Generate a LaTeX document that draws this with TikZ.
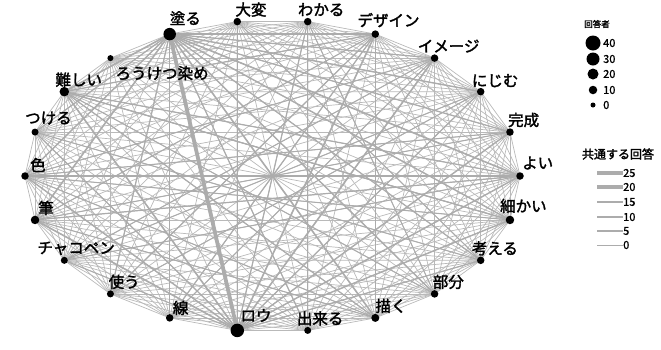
\documentclass[tikz,border=0pt]{standalone}
\usepackage{fontspec}
\newfontfamily\jpfont[FakeBold=2]{Noto Sans CJK JP}
\newfontfamily\jpplain[FakeBold=1.2]{Noto Sans CJK JP}
\usetikzlibrary{backgrounds}
\tikzset{
  dot/.style={circle, fill=black, inner sep=0pt, minimum size=#1},
  dot/.default=7pt,
  word/.style={font=\jpfont\fontsize{15.5}{16}\selectfont, inner sep=0pt, anchor=west},
  num/.style={font=\jpplain\fontsize{11}{12}\selectfont, inner sep=0pt, anchor=west},
  tie/.style={draw=gray!65, line width=#1},
  tie/.default=0.7pt,
}
\begin{document}
\begin{tikzpicture}[x=1pt, y=-1pt]
        \useasboundingbox (0,0) rectangle (661,349);

        % Words on the ellipse
        \foreach \i/\d in {0/7.5,1/7.5,2/7.5,3/7.5,4/7.5,5/7.5,6/7.5,7/12.5,8/6,9/9.5,10/7,
                           11/7.5,12/8.5,13/7,14/7,15/7.5,16/13.5,17/7,18/8,19/7.5,20/7.5,21/8.5}
          \node[dot=\d pt] (n\i) at ({272.5+247.5*cos(\i*360/22)}, {176-156*sin(\i*360/22)}) {};

        % Word labels
        \foreach \i/\t/\dx/\dy in {0/よい/2/-13, 1/完成/-2/-12, 2/にじむ/-9/-11, 3/イメージ/-17/-12,
                                   4/デザイン/-18/-14, 5/わかる/-10/-12, 6/大変/-2/-12, 7/塗る/0/-16,
                                   8/ろうけつ染め/5/15, 9/難しい/-9/-12, 10/つける/-10/-14, 11/色/5/-11,
                                   12/筆/3/-12, 13/チャコペン/-27/-12, 14/使う/-2/-12, 15/線/3/-10,
                                   16/ロウ/3/-15, 17/出来る/-11/-12, 18/描く/0/-12, 19/部分/-2/-12,
                                   20/考える/-9/-12, 21/細かい/-10/-14}
          \node[word] (l\i) at ([shift={(\dx,\dy)}]n\i.center) {\t};

        % Co-occurrence lines
        \begin{scope}[on background layer]
          \foreach \i in {0,...,20}{
            \pgfmathtruncatemacro\k{\i+1}
            \foreach \j in {\k,...,21}
              \draw[tie, draw=gray!55] (n\i.center) -- (n\j.center);
          }
          \foreach \i/\j/\w in {7/16/3.8,
              7/0/1.6, 7/21/1.4, 7/20/1.2, 7/19/1.4, 7/18/1.6, 7/17/1.2, 7/12/1.6, 7/11/1.4,
              7/10/1.2, 7/9/1.6, 7/4/1.6, 7/3/1.2, 7/2/1.4, 7/1/1.2, 7/14/1.2, 7/15/1.0,
              16/0/1.4, 16/1/1.4, 16/2/1.2, 16/3/1.6, 16/4/1.6, 16/5/1.2, 16/9/1.6, 16/10/1.2,
              16/11/1.4, 16/12/1.6, 16/21/1.4, 16/20/1.2, 16/13/1.0,
              9/0/1.2, 9/21/1.2, 9/18/1.2, 9/4/1.2, 12/0/1.2, 12/4/1.0, 4/15/1.2, 4/14/1.2,
              4/18/1.0, 3/13/1.0, 2/14/1.0, 21/11/1.0, 0/11/1.2, 1/12/1.0, 18/12/1.0, 18/11/1.0,
              6/16/1.0, 5/17/1.0, 3/15/1.0, 2/13/1.0, 1/11/1.0, 20/10/1.0, 19/9/1.0, 21/9/1.0,
              0/13/1.0, 3/11/1.0, 5/19/1.0, 6/20/1.0}
            \draw[tie=\w pt] (n\i.center) -- (n\j.center);
        \end{scope}

        % Legend: respondents
        \node[font=\jpfont\fontsize{8.5}{9}\selectfont, inner sep=0pt] (sizetitle) at (597,24) {回答者};
        \foreach \v/\d/\y in {40/15/43, 30/13/59, 20/11/74, 10/8.5/90, 0/5/105}{
          \node[dot=\d pt] (s\v) at (593,\y) {};
          \node[num] (sv\v) at (603,\y) {\v};
        }

        % Legend: shared answers
        \node[font=\jpfont\fontsize{12}{13}\selectfont, inner sep=0pt] (widthtitle) at (618,154) {共通する回答};
        \foreach \v/\w/\y in {25/4.2/173, 20/3.4/187, 15/2.6/202, 10/2/217, 5/1.3/231, 0/0.6/245}{
          \coordinate (w\v a) at (597,\y);
          \node[num] (w\v) at (623,\y) {\v};
          \draw[tie=\w pt] (w\v a) -- (w\v.west);
        }
      \end{tikzpicture}
\end{document}
